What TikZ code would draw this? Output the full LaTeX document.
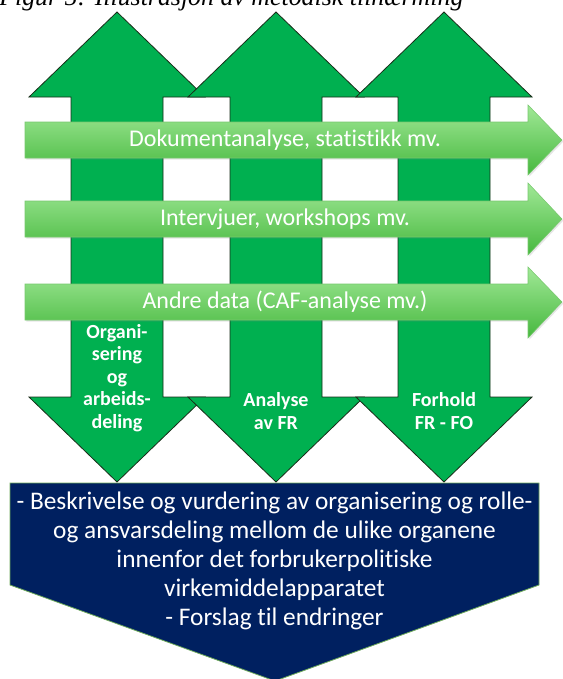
\documentclass[tikz,border=0pt]{standalone}
\usepackage{fontspec}
\setmainfont{Carlito}[RawFeature={-liga;-clig;-calt;-dlig}]
\newfontfamily\capfont{Liberation Serif}
\usetikzlibrary{shadows}

\begin{document}
\begin{tikzpicture}[x=0.75pt,y=0.75pt,yscale=-1,xscale=1,
  colarrow/.style={fill={rgb, 255:red, 0; green, 176; blue, 80 }, draw={rgb, 255:red, 25; green, 45; blue, 25 }, line width=0.6},
  bandarrow/.style={draw={rgb, 255:red, 120; green, 200; blue, 110 }, line width=0.4,
    top color={rgb, 255:red, 160; green, 232; blue, 150 }, bottom color={rgb, 255:red, 70; green, 184; blue, 62 },
    drop shadow={opacity=0.2, shadow xshift=1pt, shadow yshift=-1.2pt}},
  bandtext/.style={text=white, font=\fontsize{18}{21}\selectfont, inner sep=0.75pt},
  collabel/.style={text=white, font=\bfseries\fontsize{15}{16.9}\selectfont, align=center, inner sep=0.75pt},
]
\path[use as bounding box] (0,0) rectangle (563,679);

% Text Node
\draw (-1,5) node [anchor=base west][inner sep=0pt] (caption) {\capfont\itshape\fontsize{19.4}{22}\selectfont Figur 5: Illustrasjon av metodisk tilnærming};

%Shape: Up Down Arrow [column 1]
\draw [colarrow] (117,12) -- (205,97) -- (163,97) -- (163,397) -- (205,397) -- (117,482) -- (29,397) -- (71,397) -- (71,97) -- (29,97) -- cycle ;
%Shape: Up Down Arrow [column 2]
\draw [colarrow] (276,12) -- (364,97) -- (322,97) -- (322,397) -- (364,397) -- (276,482) -- (188,397) -- (230,397) -- (230,97) -- (188,97) -- cycle ;
%Shape: Up Down Arrow [column 3]
\draw [colarrow] (444,12) -- (532,97) -- (490,97) -- (490,397) -- (532,397) -- (444,482) -- (356,397) -- (398,397) -- (398,97) -- (356,97) -- cycle ;

%Shape: Right Arrow [band 1]
\draw [bandarrow] (25,122) -- (528,122) -- (528,105) -- (562,140) -- (528,175) -- (528,158) -- (25,158) -- cycle ;
%Shape: Right Arrow [band 2]
\draw [bandarrow] (25,201) -- (528,201) -- (528,183) -- (562,219) -- (528,255) -- (528,237) -- (25,237) -- cycle ;
%Shape: Right Arrow [band 3]
\draw [bandarrow] (25,284) -- (528,284) -- (528,267) -- (562,302) -- (528,338) -- (528,320) -- (25,320) -- cycle ;

%Shape: Pentagon [result]
\draw [fill={rgb, 255:red, 0; green, 32; blue, 96 }, draw={rgb, 255:red, 110; green, 170; blue, 90 }, line width=0.6] (10,483) -- (539,483) -- (539,585) -- (275,681) -- (10,585) -- cycle ;

% Text Node
\draw (285,140) node [bandtext] (lblDok) {Dokumentanalyse, statistikk mv.};
% Text Node
\draw (285,219) node [bandtext] (lblInt) {Intervjuer, workshops mv.};
% Text Node
\draw (285,302) node [bandtext] (lblAndre) {Andre data (CAF-analyse mv.)};
% Text Node
\draw (117,378) node [collabel] (lblOrg) {Organi-\\sering\\og\\arbeids-\\deling};
% Text Node
\draw (276,411) node [collabel] (lblAnalyse) {Analyse\\av FR};
% Text Node
\draw (444,411) node [collabel] (lblForhold) {Forhold\\FR - FO};
% Text Node
\draw (274.5,561) node [text=white, font=\fontsize{19}{21.75}\selectfont, align=center, inner sep=0.75pt] (lblResult) {- Beskrivelse og vurdering av organisering og rolle-\\og ansvarsdeling mellom de ulike organene\\innenfor det forbrukerpolitiske\\virkemiddelapparatet\\- Forslag til endringer};

\end{tikzpicture}
\end{document}
